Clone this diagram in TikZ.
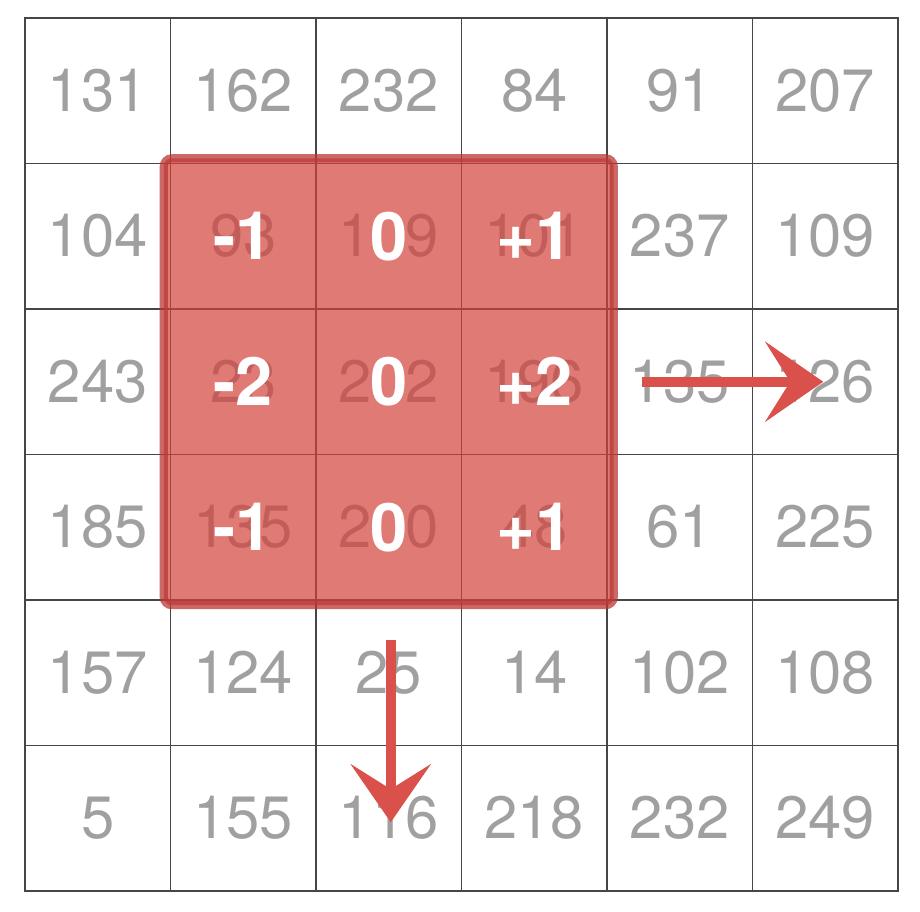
\documentclass[tikz,border=0pt]{standalone}
\usepackage{fontspec}
\setmainfont{TeX Gyre Heros}
\usepackage{tikz}
\usetikzlibrary{arrows.meta,positioning,fit}

\definecolor{GridGray}{RGB}{70,70,70}
\definecolor{NumGray}{RGB}{160,160,160}
\definecolor{KernelRed}{RGB}{211,65,59}
\definecolor{KernelEdge}{RGB}{185,55,52}
\definecolor{ArrowRed}{RGB}{218,80,75}

\begin{document}
\begin{tikzpicture}[
    x=0.01cm, y=-0.01cm,
    cell/.style={draw=GridGray, line width=0.4pt, minimum size=1.455cm, inner sep=0pt,
                 text=NumGray, font=\fontsize{17}{17}\selectfont},
    kernel/.style={fill=KernelRed, draw=KernelEdge, line width=0.08cm, rounded corners=0.08cm,
                   fill opacity=0.7, draw opacity=0.75, inner xsep=0.06cm, inner ysep=0.045cm},
    weight/.style={text=white, font=\fontsize{19}{19}\selectfont\bfseries, inner sep=0pt},
    slide/.style={draw=ArrowRed, line width=0.1cm,
                  -{Stealth[length=0.58cm, width=0.8cm, inset=0.25cm]}}
]
\useasboundingbox (0,0) rectangle (920,912);

% input image
\foreach \row [count=\r from 0] in {{131,162,232,84,91,207},{104,93,109,101,237,109},
    {243,23,202,196,135,126},{185,135,200,48,61,225},{157,124,25,14,102,108},
    {5,155,116,218,232,249}}
  \foreach \v [count=\c from 0] in \row
    \node[cell] (c-\r-\c) at (97.75+145.5*\c, 90.75+145.5*\r) {\v};

% kernel
\node[kernel, fit=(c-1-1)(c-3-3)] (kernel) {};
\foreach \w [count=\k from 0] in {-1,0,+1,-2,0,+2,-1,0,+1} {
  \pgfmathtruncatemacro{\kr}{1+int(\k/3)}
  \pgfmathtruncatemacro{\kc}{1+mod(\k,3)}
  \node[weight] (w-\kr-\kc) at (c-\kr-\kc) {\w};
}

% sliding direction
\coordinate (hstart) at ([xshift=0.36cm]c-2-4.west);
\coordinate (hend) at ([xshift=-0.02cm]c-2-5.center);
\coordinate (vstart) at ([xshift=0.02cm, yshift=-0.41cm]c-4-2.north);
\coordinate (vend) at ([xshift=0.02cm, yshift=-0.04cm]c-5-2.center);
\draw[slide] (hstart) -- (hend);
\draw[slide] (vstart) -- (vend);
\end{tikzpicture}
\end{document}
